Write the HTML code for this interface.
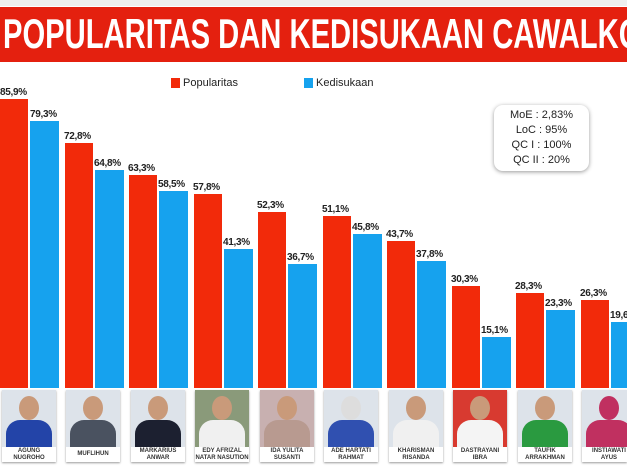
<!DOCTYPE html>
<html><head><meta charset="utf-8"><style>
body{margin:0;width:627px;height:470px;overflow:hidden;background:#fff;position:relative;font-family:"Liberation Sans",sans-serif}
.a{position:absolute}
.r{position:absolute;background:#f22a0a;width:28px}
.b{position:absolute;background:#16a2ee;width:29px}
.l{position:absolute;font-size:10px;font-weight:bold;color:#222;letter-spacing:-0.3px}
.c{position:absolute;top:390px;width:54px;height:72px;background:#fff;box-shadow:0 1px 2px #999}
.p{position:absolute;left:0;top:0;width:54px;height:57px;background:#dde3ea;overflow:hidden}
.h{position:absolute;left:17px;top:6px;width:20px;height:24px;border-radius:50%;background:#c99a7a}
.s{position:absolute;left:4px;top:30px;width:46px;height:30px;border-radius:14px 14px 0 0;background:#2a3550}
.n{position:absolute;left:0;top:57px;width:54px;height:15px;font-size:6px;font-weight:bold;color:#333;text-align:center;line-height:7px;display:flex;align-items:center;justify-content:center}
</style></head><body>
<div class="a" style="left:0;top:0;width:627px;height:6px;background:#eee"></div>
<div class="a" style="left:0;top:7px;width:627px;height:55px;background:#e4200f;overflow:hidden">
<div class="a" style="left:3px;top:3px;font-size:42px;font-weight:bold;color:#fff;white-space:nowrap;transform:scaleX(0.695);transform-origin:0 0">POPULARITAS DAN KEDISUKAAN CAWALKOT</div>
</div>
<div class="a" style="left:171px;top:78px;width:9px;height:10px;background:#f22a0a"></div>
<div class="a" style="left:183px;top:77px;font-size:11px;color:#222">Popularitas</div>
<div class="a" style="left:304px;top:78px;width:9px;height:10px;background:#16a2ee"></div>
<div class="a" style="left:316px;top:77px;font-size:11px;color:#222">Kedisukaan</div>
<div class="a" style="left:494px;top:105px;width:95px;height:66px;border-radius:9px;background:#fff;box-shadow:0 1px 4px #999;font-size:11px;color:#222;text-align:center;line-height:15px;padding-top:3px;box-sizing:border-box">MoE : 2,83%<br>LoC : 95%<br>QC I : 100%<br>QC II : 20%</div>

<div class="r" style="left:0;top:99px;height:289px"></div><div class="b" style="left:30px;top:121px;height:267px"></div>
<div class="l" style="left:0;top:87px">85,9%</div><div class="l" style="left:30px;top:109px">79,3%</div>
<div class="r" style="left:65px;top:143px;height:245px"></div><div class="b" style="left:95px;top:170px;height:218px"></div>
<div class="l" style="left:64px;top:131px">72,8%</div><div class="l" style="left:94px;top:158px">64,8%</div>
<div class="r" style="left:129px;top:175px;height:213px"></div><div class="b" style="left:159px;top:191px;height:197px"></div>
<div class="l" style="left:128px;top:163px">63,3%</div><div class="l" style="left:158px;top:179px">58,5%</div>
<div class="r" style="left:194px;top:194px;height:194px"></div><div class="b" style="left:224px;top:249px;height:139px"></div>
<div class="l" style="left:193px;top:182px">57,8%</div><div class="l" style="left:223px;top:237px">41,3%</div>
<div class="r" style="left:258px;top:212px;height:176px"></div><div class="b" style="left:288px;top:264px;height:124px"></div>
<div class="l" style="left:257px;top:200px">52,3%</div><div class="l" style="left:287px;top:252px">36,7%</div>
<div class="r" style="left:323px;top:216px;height:172px"></div><div class="b" style="left:353px;top:234px;height:154px"></div>
<div class="l" style="left:322px;top:204px">51,1%</div><div class="l" style="left:352px;top:222px">45,8%</div>
<div class="r" style="left:387px;top:241px;height:147px"></div><div class="b" style="left:417px;top:261px;height:127px"></div>
<div class="l" style="left:386px;top:229px">43,7%</div><div class="l" style="left:416px;top:249px">37,8%</div>
<div class="r" style="left:452px;top:286px;height:102px"></div><div class="b" style="left:482px;top:337px;height:51px"></div>
<div class="l" style="left:451px;top:274px">30,3%</div><div class="l" style="left:481px;top:325px">15,1%</div>
<div class="r" style="left:516px;top:293px;height:95px"></div><div class="b" style="left:546px;top:310px;height:78px"></div>
<div class="l" style="left:515px;top:281px">28,3%</div><div class="l" style="left:545px;top:298px">23,3%</div>
<div class="r" style="left:581px;top:300px;height:88px"></div><div class="b" style="left:611px;top:322px;height:66px"></div>
<div class="l" style="left:580px;top:288px">26,3%</div><div class="l" style="left:610px;top:310px;width:17px;overflow:hidden;white-space:nowrap">19,6%</div>

<div class="c" style="left:2px"><div class="p"><div class="h"></div><div class="s" style="background:#2344a8"></div></div><div class="n">AGUNG NUGROHO</div></div>
<div class="c" style="left:66px"><div class="p"><div class="h"></div><div class="s" style="background:#4a5260"></div></div><div class="n">MUFLIHUN</div></div>
<div class="c" style="left:131px"><div class="p"><div class="h"></div><div class="s" style="background:#1c2030"></div></div><div class="n">MARKARIUS<br>ANWAR</div></div>
<div class="c" style="left:195px"><div class="p" style="background:#8a9a7a"><div class="h"></div><div class="s" style="background:#f0f0f0"></div></div><div class="n">EDY AFRIZAL<br>NATAR NASUTION</div></div>
<div class="c" style="left:260px"><div class="p" style="background:#c8b0b0"><div class="h"></div><div class="s" style="background:#b89a90"></div></div><div class="n">IDA YULITA<br>SUSANTI</div></div>
<div class="c" style="left:324px"><div class="p"><div class="h" style="background:#ddd"></div><div class="s" style="background:#3050b0"></div></div><div class="n">ADE HARTATI<br>RAHMAT</div></div>
<div class="c" style="left:389px"><div class="p"><div class="h"></div><div class="s" style="background:#f0f0f0"></div></div><div class="n">KHARISMAN<br>RISANDA</div></div>
<div class="c" style="left:453px"><div class="p" style="background:#d83a30"><div class="h"></div><div class="s" style="background:#f4f4f4"></div></div><div class="n">DASTRAYANI<br>IBRA</div></div>
<div class="c" style="left:518px"><div class="p"><div class="h"></div><div class="s" style="background:#2a9a40"></div></div><div class="n">TAUFIK<br>ARRAKHMAN</div></div>
<div class="c" style="left:582px;width:45px;overflow:hidden"><div class="p"><div class="h" style="background:#c03060"></div><div class="s" style="background:#c03060"></div></div><div class="n">INSTIAWATI<br>AYUS</div></div>
</body></html>
